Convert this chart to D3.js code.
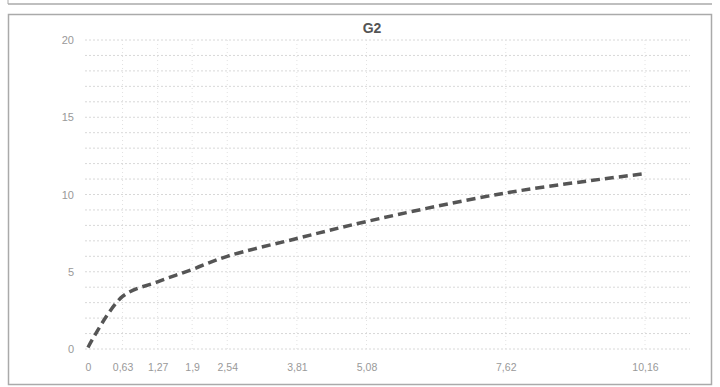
<!DOCTYPE html>
<html><head><meta charset="utf-8">
<script src="https://cdn.jsdelivr.net/npm/d3@7"></script>
<style>body{margin:0;background:#fff}svg{display:block;font-family:"Liberation Sans",Arial,sans-serif}</style>
</head><body><svg id="c" width="720" height="387"></svg>
<script>
const title = "G2";
const xValues = [0, 0.63, 1.27, 1.9, 2.54, 3.81, 5.08, 7.62, 10.16];
const yValues = [0.1, 3.4, 4.35, 5.15, 6.0, 7.15, 8.25, 10.1, 11.35];
const xTickLabels = ["0", "0,63", "1,27", "1,9", "2,54", "3,81", "5,08", "7,62", "10,16"];
const yTicks = [0, 5, 10, 15, 20];

const svg = d3.select("#c");
svg.append("line").attr("x1",8).attr("x2",712).attr("y1",4).attr("y2",4).attr("stroke","#aaa").attr("stroke-width",1.5);
svg.append("line").attr("x1",8).attr("x2",8).attr("y1",0).attr("y2",4).attr("stroke","#aaa");
svg.append("rect").attr("x",8.5).attr("y",14.5).attr("width",703).attr("height",370).attr("fill","#fff").attr("stroke","#aaa").attr("stroke-width",1.5);

const x = d3.scaleLinear().domain([0, 10.16]).range([88, 645]);
const y = d3.scaleLinear().domain([0, 20]).range([349, 40]);

const g = svg.append("g");
g.selectAll(".hg").data(d3.range(0, 21)).join("line")
  .attr("x1",85).attr("x2",690).attr("y1",d=>y(d)).attr("y2",d=>y(d))
  .attr("stroke","#d8d8d8").attr("stroke-width",1).attr("stroke-dasharray","2,2");
g.selectAll(".vg").data(xValues.slice(1)).join("line")
  .attr("x1",d=>x(d)).attr("x2",d=>x(d)).attr("y1",y(20)).attr("y2",y(0))
  .attr("stroke","#e2e2e2").attr("stroke-width",1).attr("stroke-dasharray","1,3");

const yAxis = d3.axisLeft(y).tickValues(yTicks).tickSize(0).tickPadding(0);
svg.append("g").attr("transform","translate(74,0)").call(yAxis)
  .call(s=>s.select(".domain").remove())
  .call(s=>s.selectAll("text").attr("fill","#999").attr("font-size",11));

const xAxis = d3.axisBottom(x).tickValues(xValues).tickFormat((d,i)=>xTickLabels[i]).tickSize(0).tickPadding(0);
svg.append("g").attr("transform","translate(0,364)").call(xAxis)
  .call(s=>s.select(".domain").remove())
  .call(s=>s.selectAll("text").attr("fill","#999").attr("font-size",10.5));

const line = d3.line().x((d,i)=>x(xValues[i])).y(d=>y(d)).curve(d3.curveCatmullRom.alpha(0.5));
svg.append("path").attr("d", line(yValues)).attr("fill","none")
  .attr("stroke","#555").attr("stroke-width",3.5).attr("stroke-dasharray","9,5").attr("stroke-linecap","butt");

svg.append("text").attr("x",372).attr("y",33).attr("text-anchor","middle")
  .attr("font-size",14).attr("font-weight","bold").attr("fill","#555").text(title);
</script></body></html>
